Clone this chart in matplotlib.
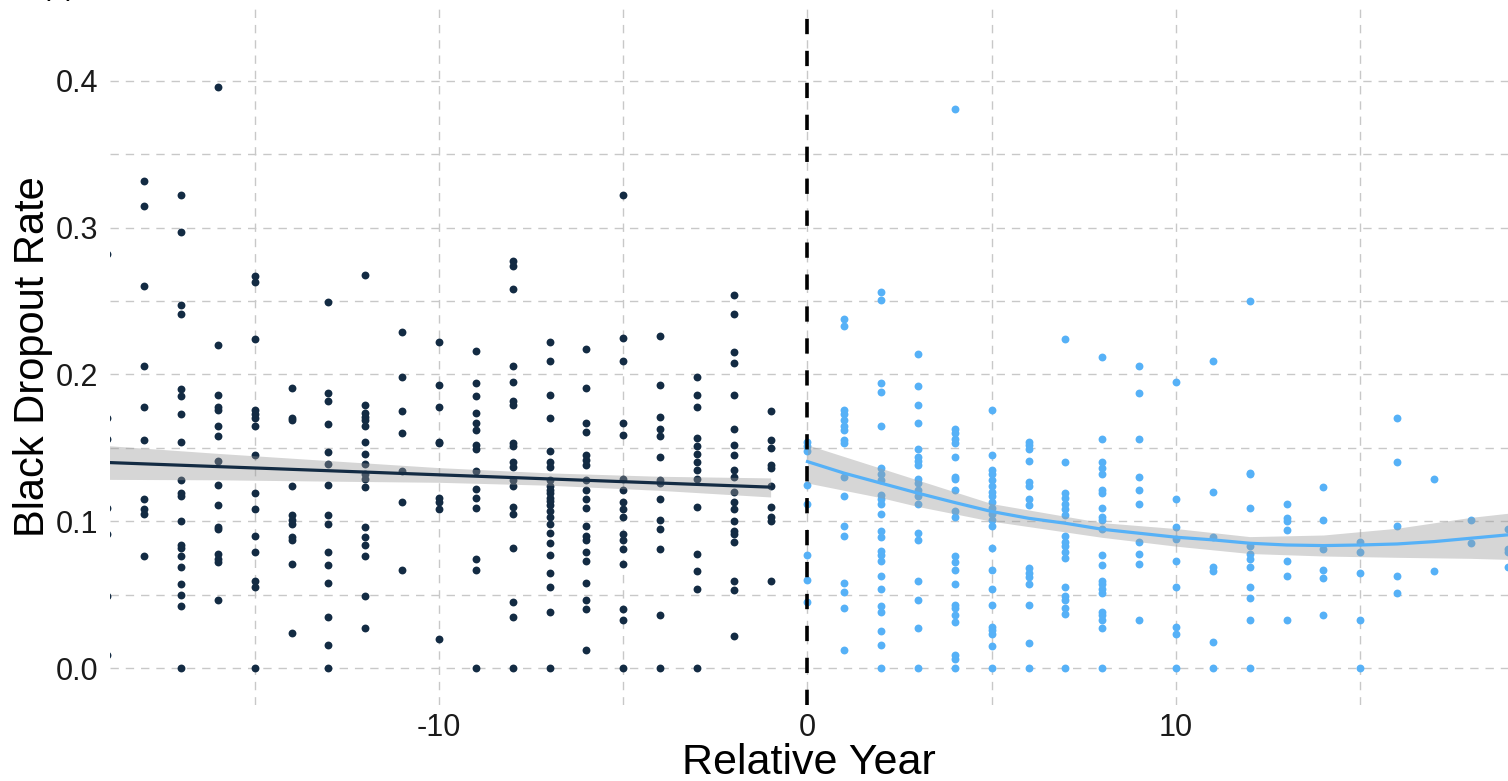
import matplotlib.pyplot as plt
import numpy as np

plt.rcParams['font.family'] = ['Liberation Sans', 'DejaVu Sans']
plt.rcParams['lines.scale_dashes'] = False
plt.rcParams['axes.unicode_minus'] = False

# dropout rate per district, by year relative to the policy change
pre_years = list(range(-19, 0))
pre_rates = [
    [0.282, 0.170, 0.156, 0.109, 0.091, 0.049, 0.009],
    [0.332, 0.315, 0.260, 0.206, 0.178, 0.155, 0.115, 0.108, 0.105, 0.076],
    [0.322, 0.297, 0.247, 0.241, 0.190, 0.185, 0.173, 0.154, 0.128, 0.119, 0.117,
     0.100, 0.084, 0.082, 0.076, 0.069, 0.057, 0.050, 0.042, 0.0],
    [0.396, 0.220, 0.186, 0.178, 0.176, 0.165, 0.158, 0.141, 0.125, 0.111, 0.096,
     0.095, 0.078, 0.074, 0.072, 0.046],
    [0.267, 0.263, 0.224, 0.176, 0.173, 0.170, 0.165, 0.145, 0.119, 0.108, 0.090,
     0.079, 0.059, 0.055, 0.0],
    [0.191, 0.170, 0.169, 0.124, 0.104, 0.101, 0.098, 0.089, 0.087, 0.071, 0.024],
    [0.249, 0.187, 0.182, 0.166, 0.147, 0.139, 0.125, 0.104, 0.098, 0.079, 0.070,
     0.058, 0.035, 0.016, 0.0],
    [0.268, 0.179, 0.174, 0.171, 0.169, 0.165, 0.154, 0.146, 0.139, 0.132, 0.129,
     0.123, 0.096, 0.089, 0.084, 0.076, 0.049, 0.027],
    [0.229, 0.198, 0.175, 0.160, 0.134, 0.113, 0.067],
    [0.222, 0.193, 0.178, 0.154, 0.153, 0.116, 0.113, 0.108, 0.020],
    [0.216, 0.194, 0.185, 0.174, 0.167, 0.162, 0.152, 0.149, 0.134, 0.122, 0.116,
     0.109, 0.074, 0.067, 0.0],
    [0.277, 0.274, 0.258, 0.206, 0.195, 0.182, 0.179, 0.153, 0.151, 0.140, 0.137,
     0.128, 0.124, 0.110, 0.105, 0.082, 0.045, 0.035, 0.0],
    [0.222, 0.209, 0.186, 0.170, 0.148, 0.140, 0.137, 0.128, 0.124, 0.121, 0.119,
     0.116, 0.114, 0.111, 0.107, 0.103, 0.098, 0.092, 0.085, 0.077, 0.065, 0.055,
     0.038, 0.0],
    [0.217, 0.191, 0.167, 0.161, 0.145, 0.142, 0.138, 0.128, 0.121, 0.115, 0.109,
     0.097, 0.090, 0.087, 0.079, 0.073, 0.058, 0.046, 0.040, 0.012],
    [0.322, 0.225, 0.209, 0.167, 0.159, 0.129, 0.121, 0.113, 0.108, 0.103, 0.091,
     0.087, 0.081, 0.071, 0.040, 0.033, 0.0],
    [0.226, 0.193, 0.171, 0.163, 0.158, 0.144, 0.128, 0.126, 0.115, 0.101, 0.095,
     0.081, 0.036, 0.0],
    [0.198, 0.186, 0.178, 0.157, 0.151, 0.146, 0.140, 0.135, 0.129, 0.110, 0.078,
     0.066, 0.054, 0.0],
    [0.254, 0.241, 0.215, 0.208, 0.186, 0.163, 0.152, 0.145, 0.135, 0.130, 0.120,
     0.113, 0.108, 0.100, 0.093, 0.091, 0.086, 0.059, 0.053, 0.022],
    [0.175, 0.155, 0.150, 0.138, 0.136, 0.124, 0.110, 0.103, 0.100, 0.059],
]

post_years = list(range(0, 20))
post_rates = [
    [0.154, 0.151, 0.148, 0.125, 0.112, 0.077, 0.060, 0.045],
    [0.238, 0.233, 0.176, 0.173, 0.169, 0.165, 0.162, 0.155, 0.153, 0.130, 0.117,
     0.097, 0.090, 0.058, 0.052, 0.041, 0.012],
    [0.256, 0.251, 0.194, 0.188, 0.165, 0.136, 0.132, 0.128, 0.118, 0.115, 0.112,
     0.105, 0.093, 0.089, 0.080, 0.077, 0.073, 0.063, 0.054, 0.042, 0.038, 0.025,
     0.016, 0.0],
    [0.214, 0.192, 0.179, 0.167, 0.149, 0.144, 0.141, 0.138, 0.129, 0.126, 0.121,
     0.117, 0.112, 0.092, 0.087, 0.059, 0.046, 0.027, 0.0],
    [0.381, 0.163, 0.160, 0.156, 0.153, 0.144, 0.130, 0.129, 0.121, 0.107, 0.103,
     0.076, 0.072, 0.067, 0.057, 0.043, 0.041, 0.036, 0.031, 0.009, 0.006, 0.0],
    [0.176, 0.145, 0.135, 0.132, 0.128, 0.124, 0.120, 0.117, 0.113, 0.109, 0.105,
     0.101, 0.097, 0.082, 0.067, 0.054, 0.043, 0.028, 0.026, 0.023, 0.015, 0.0],
    [0.154, 0.152, 0.149, 0.141, 0.127, 0.124, 0.115, 0.111, 0.068, 0.065, 0.062,
     0.057, 0.043, 0.017, 0.0],
    [0.224, 0.140, 0.119, 0.116, 0.112, 0.108, 0.104, 0.090, 0.086, 0.083, 0.079,
     0.075, 0.055, 0.049, 0.046, 0.041, 0.037, 0.0],
    [0.212, 0.156, 0.140, 0.136, 0.132, 0.121, 0.119, 0.109, 0.103, 0.101, 0.095,
     0.077, 0.070, 0.059, 0.057, 0.054, 0.051, 0.038, 0.036, 0.033, 0.027, 0.0],
    [0.206, 0.187, 0.156, 0.130, 0.121, 0.112, 0.086, 0.078, 0.071, 0.033],
    [0.195, 0.115, 0.096, 0.088, 0.073, 0.055, 0.028, 0.023, 0.0],
    [0.209, 0.120, 0.089, 0.069, 0.066, 0.018, 0.0],
    [0.250, 0.133, 0.132, 0.109, 0.083, 0.078, 0.074, 0.069, 0.055, 0.048, 0.033, 0.0],
    [0.112, 0.102, 0.100, 0.094, 0.073, 0.063, 0.033],
    [0.123, 0.101, 0.081, 0.067, 0.061, 0.036],
    [0.086, 0.079, 0.065, 0.033, 0.0],
    [0.170, 0.140, 0.097, 0.063, 0.051],
    [0.129, 0.066],
    [0.101, 0.085],
    [0.095, 0.081, 0.079, 0.069],
]

# linear fit before, loess after (with 95% bands)
pre_fit_x = [-19, -1]
pre_fit_y = [0.1400, 0.1232]
pre_band_x = [-19, -16, -13, -10, -7, -4, -1]
pre_lo = [0.1285, 0.1282, 0.1273, 0.1265, 0.1245, 0.1210, 0.1165]
pre_hi = [0.1515, 0.1462, 0.1413, 0.1365, 0.1329, 0.1306, 0.1295]

post_fit_x = list(range(0, 20))
post_fit_y = [0.1406, 0.1327, 0.1259, 0.1191, 0.1127, 0.1066, 0.1020, 0.0986,
              0.0945, 0.0918, 0.0891, 0.0873, 0.0850, 0.0838, 0.0834, 0.0838,
              0.0845, 0.0861, 0.0884, 0.0907]
post_band_x = [0, 1, 2, 3, 5, 8, 10, 12, 14, 16, 18, 19]
post_lo = [0.126, 0.121, 0.116, 0.110, 0.100, 0.089, 0.083, 0.078, 0.0763, 0.0754,
           0.0747, 0.074]
post_hi = [0.152, 0.144, 0.136, 0.128, 0.112, 0.099, 0.095, 0.0895, 0.0906, 0.0952,
           0.1026, 0.1054]

dark = '#132B43'
light = '#56B1F7'

W, H = 1508, 781
fig = plt.figure(figsize=(W / 100, H / 100), dpi=100)
ax = fig.add_axes([109.5 / W, 76 / H, 1 - 109.5 / W, (705 - 8) / H])

pre_x = np.concatenate([[yr] * len(v) for yr, v in zip(pre_years, pre_rates)])
pre_y = np.concatenate(pre_rates)
post_x = np.concatenate([[yr] * len(v) for yr, v in zip(post_years, post_rates)])
post_y = np.concatenate(post_rates)

ax.scatter(pre_x, pre_y, s=32, color=dark, linewidths=0, zorder=2)
ax.scatter(post_x, post_y, s=32, color=light, linewidths=0, zorder=2)

ax.fill_between(pre_band_x, pre_lo, pre_hi, color='#999999', alpha=0.4, linewidth=0, zorder=3)
ax.plot(pre_fit_x, pre_fit_y, color=dark, lw=2.3, zorder=4)
ax.fill_between(post_band_x, post_lo, post_hi, color='#999999', alpha=0.4, linewidth=0, zorder=3)
ax.plot(post_fit_x, post_fit_y, color=light, lw=2.3, zorder=4)

ax.axvline(0, color='black', lw=2.6, linestyle=(0, (11, 12)), zorder=5)

ax.set_xlim(-18.94, 19.01)
ax.set_ylim(-0.0252, 0.4496)
ax.set_xticks([-10, 0, 10])
ax.set_xticks([-15, -5, 5, 15], minor=True)
ax.set_yticks([0, 0.1, 0.2, 0.3, 0.4])
ax.set_yticklabels(['0.0', '0.1', '0.2', '0.3', '0.4'])
ax.set_yticks([0.05, 0.15, 0.25, 0.35], minor=True)
ax.grid(which='both', color='#C8C8C8', linestyle=(0, (6, 5)), linewidth=1.0)
ax.set_axisbelow(True)
ax.tick_params(which='both', length=0, labelsize=22, colors='#1A1A1A')
ax.tick_params(axis='y', pad=8)
ax.tick_params(axis='x', pad=6)
for s in ax.spines.values():
    s.set_visible(False)

ax.set_xlabel('Relative Year', fontsize=31, labelpad=0)
ax.set_ylabel('Black Dropout Rate', fontsize=30, labelpad=2)

# panel tag, mostly above the top edge
fig.text(40 / W, 1 + 5 / H, '(a)', fontsize=21, va='baseline')

fig.savefig('out.png', dpi=100)
